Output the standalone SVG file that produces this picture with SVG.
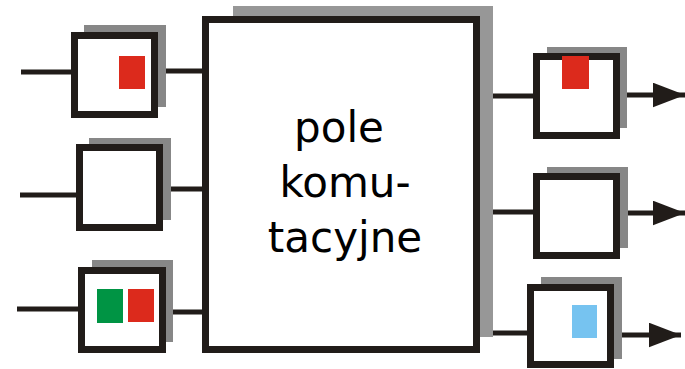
<svg xmlns="http://www.w3.org/2000/svg" width="685" height="369" viewBox="0 0 685 369">
<style>
.box{fill:#fff;stroke:#211c19;stroke-width:7}
.sh{fill:#878787}
.shb{fill:#979797}
.ln{stroke:#211c19;stroke-width:5;fill:none}
.txt{font-family:"DejaVu Sans",sans-serif;font-size:42px;fill:#000;text-anchor:middle}
</style>
<defs>
<marker id="arr" viewBox="0 0 13 10" refX="13" refY="5" markerWidth="6.4" markerHeight="5" markerUnits="strokeWidth" orient="auto">
<path d="M0,0 L13,5 L0,10 Z" fill="#211c19"/>
</marker>
</defs>
<g id="connectors">
<line class="ln" x1="21" y1="72" x2="72" y2="72"/>
<line class="ln" x1="158" y1="71" x2="204" y2="71"/>
<line class="ln" x1="20" y1="195" x2="77" y2="195"/>
<line class="ln" x1="163" y1="189" x2="204" y2="189"/>
<line class="ln" x1="17" y1="309" x2="79" y2="309"/>
<line class="ln" x1="166" y1="312" x2="204" y2="312"/>
<line class="ln" x1="493" y1="96" x2="534" y2="96"/>
<line class="ln" x1="493" y1="212" x2="534" y2="212"/>
<line class="ln" x1="493" y1="333" x2="528" y2="333"/>
<line class="ln" x1="620" y1="95" x2="685" y2="95" marker-end="url(#arr)"/>
<line class="ln" x1="620" y1="213" x2="685" y2="213" marker-end="url(#arr)"/>
<line class="ln" x1="614" y1="335" x2="681" y2="335" marker-end="url(#arr)"/>
</g>
<g id="in1">
<rect class="sh" x="84" y="25" width="82" height="82"/>
<rect class="box" x="74.5" y="35.5" width="80" height="79"/>
<rect x="119" y="56" width="26" height="33" fill="#dc2a1c"/>
</g>
<g id="in2">
<rect class="sh" x="89" y="138" width="82" height="82"/>
<rect class="box" x="79.5" y="147.5" width="80" height="80"/>
</g>
<g id="in3">
<rect class="sh" x="92" y="260" width="81" height="82"/>
<rect class="box" x="81.5" y="270.5" width="81" height="79"/>
<rect x="97" y="289" width="26" height="34" fill="#009444"/>
<rect x="128" y="289" width="26" height="33" fill="#dc2a1c"/>
</g>
<g id="switch">
<rect class="shb" x="233" y="6" width="260" height="331"/>
<rect class="box" x="205.5" y="19.5" width="271" height="330"/>
<text class="txt" x="339" y="142">pole</text>
<text class="txt" x="345" y="197">komu-</text>
<text class="txt" x="345" y="252">tacyjne</text>
</g>
<g id="out1">
<rect class="sh" x="547" y="47" width="80" height="81"/>
<rect class="box" x="536.5" y="56.5" width="80" height="79"/>
<rect x="562" y="56" width="27" height="33" fill="#dc2a1c"/>
</g>
<g id="out2">
<rect class="sh" x="547" y="167" width="81" height="81"/>
<rect class="box" x="536.5" y="176.5" width="80" height="79"/>
</g>
<g id="out3">
<rect class="sh" x="541" y="277" width="81" height="82"/>
<rect class="box" x="530.5" y="287.5" width="80" height="77"/>
<rect x="572" y="305" width="25" height="33" fill="#76c3f0"/>
</g>
</svg>
